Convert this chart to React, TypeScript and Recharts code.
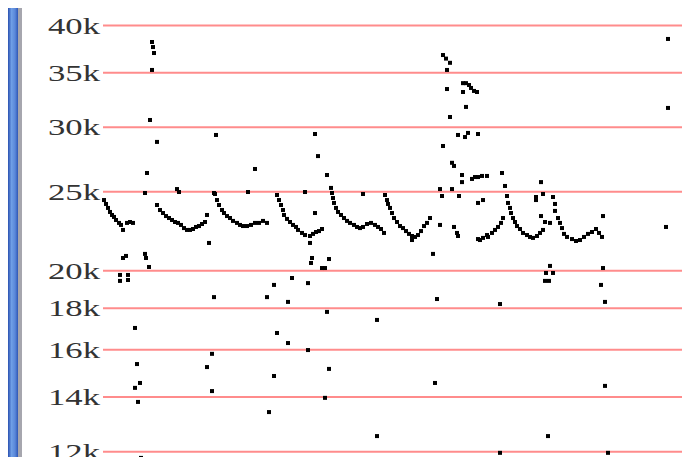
import { ScatterChart, Scatter, XAxis, YAxis, CartesianGrid } from 'recharts'

// samples as [t, value]
const wave1: [number, number][] = [
  [1, 24430], [3, 24160], [5, 23890], [7, 23620], [9, 23420], [11, 23290], [13, 23090],
  [16, 22900], [18, 22770], [20, 22450], [24, 22900], [27, 22960], [30, 22900],
]
const wave2: [number, number][] = [
  [54, 24090], [57, 23750], [60, 23550], [63, 23350], [66, 23220], [69, 23090], [72, 22960],
  [75, 22900], [78, 22770], [81, 22570], [84, 22450], [87, 22450], [90, 22510], [93, 22640],
  [96, 22700], [99, 22830], [102, 22960], [104, 23420], [74, 25200], [76, 24990], [106, 21640],
]
const wave3: [number, number][] = [
  [112, 24850], [114, 24430], [116, 24090], [119, 23750], [121, 23550], [124, 23350],
  [127, 23220], [130, 23030], [134, 22900], [137, 22770], [140, 22700], [144, 22700],
  [148, 22770], [152, 22900], [156, 22900], [160, 23030], [164, 22900], [145, 24990], [152, 26670],
]
const wave4: [number, number][] = [
  [174, 24780], [176, 24430], [178, 24090], [180, 23750], [181, 23420], [184, 23160],
  [187, 22960], [190, 22770], [193, 22640], [195, 22450], [199, 22260], [202, 22130],
  [207, 22070], [210, 22200], [213, 22320], [216, 22380], [219, 22510], [212, 23550], [202, 24990],
]
const wave5: [number, number][] = [
  [228, 25280], [229, 24920], [230, 24570], [231, 24230], [233, 23890], [235, 23620],
  [238, 23420], [241, 23220], [244, 23030], [247, 22900], [251, 22770], [254, 22640],
  [257, 22570], [260, 22640], [264, 22830], [268, 22900], [272, 22770], [275, 22640],
  [278, 22510], [281, 22260], [260, 24850],
]
const wave6: [number, number][] = [
  [282, 24780], [284, 24430], [285, 24160], [287, 23890], [289, 23550], [291, 23220],
  [294, 22960], [297, 22700], [300, 22570], [303, 22380], [306, 22200], [309, 22070],
  [309, 21820], [312, 22010], [315, 22130], [318, 22380], [321, 22700], [324, 22900],
  [327, 23220], [337, 22770], [351, 22640], [354, 22260], [355, 22070],
]
const wave7: [number, number][] = [
  [375, 21880], [380, 21950], [385, 22010], [389, 22260], [392, 22450], [395, 22640],
  [398, 22900], [400, 23220], [377, 21820], [384, 22130],
  [402, 25420], [404, 24710], [405, 24230], [407, 23890], [408, 23550], [410, 23220],
  [412, 22960], [414, 22700], [417, 22510], [420, 22260], [424, 22130], [427, 22010],
  [430, 21950], [434, 22070], [437, 22260], [440, 22450], [442, 22960], [447, 22900],
  [438, 23350], [438, 25700], [440, 24850], [433, 24640], [433, 24430],
]
const wave8: [number, number][] = [
  [450, 24640], [452, 24160], [452, 23690], [455, 23220], [457, 22900], [459, 22570],
  [461, 22200], [464, 22010], [469, 21880], [473, 21760], [477, 21820], [481, 22010],
  [485, 22200], [489, 22320], [493, 22510], [496, 22260], [499, 22010], [500, 23350],
]
const spikes: [number, number][] = [
  [49, 38180], [50, 37640], [51, 37010], [49, 35280], [47, 30630], [54, 28790], [44, 26370], [42, 24920],
  [113, 29360], [111, 24920],
  [212, 29440], [215, 27660], [224, 26220],
  [340, 36800], [343, 36430], [347, 36000], [344, 35280], [344, 33430], [347, 30890],
  [340, 28460], [349, 27140], [351, 26900], [359, 26220], [359, 25700], [337, 25200],
  [339, 24710], [349, 25200], [356, 24710], [360, 33990], [363, 33990], [366, 33810],
  [368, 33530], [371, 33250], [374, 33150], [360, 33150], [363, 31780], [355, 29360],
  [362, 29190], [365, 29530], [375, 29440], [369, 25930], [372, 26070], [375, 26070],
  [379, 26150], [384, 26150], [375, 24230], [380, 24430], [399, 26370],
  [565, 38510], [565, 31690], [563, 22640],
]
const lows: [number, number][] = [
  [20, 20740], [23, 20860], [17, 19770], [17, 19440], [25, 19770], [25, 19490],
  [42, 20980], [43, 20740], [46, 20220], [32, 17020], [34, 15370], [37, 14570],
  [32, 14370], [35, 13810], [38, 11790],
  [111, 18570], [109, 15820], [104, 15240], [109, 14240],
  [171, 19220], [164, 18570], [185, 18320], [174, 16780], [185, 16310], [171, 14860],
  [166, 13420], [166, 11660],
  [189, 19600], [205, 19320], [207, 21640], [209, 20740], [208, 20450], [226, 20680],
  [219, 20160], [222, 20160], [205, 15990], [224, 17810], [226, 15160], [222, 13970],
  [274, 17410], [274, 12540], [330, 20980], [334, 18470], [332, 14570],
  [447, 20280], [443, 19880], [450, 19880], [442, 19440], [446, 19440], [397, 18210],
  [500, 20160], [498, 19220], [502, 18320], [502, 14450], [445, 12540], [397, 11960], [505, 11960],
]

const yTicks = [12000, 14000, 16000, 18000, 20000, 25000, 30000, 35000, 40000]

const points = [...wave1, ...wave2, ...wave3, ...wave4, ...wave5, ...wave6, ...wave7, ...wave8, ...spikes, ...lows]
  .map(([t, v]) => ({ t, v }))

const Square = (props: any) => {
  const { cx, cy } = props
  if (cx == null || cy == null) return null
  return <rect x={cx - 2} y={cy - 2} width={4} height={4} fill="#000" />
}

// wide labels like the original bitmap font
const YTick = (props: any) => {
  const { x, y, payload } = props
  return (
    <text
      x={x - 3}
      y={y}
      textAnchor="end"
      dominantBaseline="central"
      fill="#333"
      fontSize={24}
      fontFamily="Liberation Serif"
      textLength={52}
      lengthAdjust="spacingAndGlyphs"
    >
      {`${payload.value / 1000}k`}
    </text>
  )
}

export default function App() {
  return (
    <div style={{ position: 'relative', width: 690, height: 465, margin: -8, background: '#fff' }}>
      <div
        style={{
          position: 'absolute', left: 8, top: 0, width: 10, height: 465,
          background: 'linear-gradient(to right, #2a50b0, #6f9fe6 35%, #5a88da 70%, #2f57b5)',
        }}
      />
      <div style={{ position: 'absolute', left: 18, top: 0, width: 4, height: 465, background: '#a6a6ae' }} />
      <ScatterChart width={690} height={465} margin={{ top: 0, right: 0, bottom: 0, left: 0 }}>
        <CartesianGrid horizontal vertical={false} stroke="#ff8c8c" strokeWidth={2} />
        <XAxis type="number" dataKey="t" domain={[0, 587]} hide />
        <YAxis
          type="number"
          dataKey="v"
          scale="log"
          domain={[11556, 42990]}
          allowDataOverflow
          ticks={yTicks}
          interval={0}
          width={103}
          axisLine={false}
          tickLine={false}
          tickSize={0}
          tickMargin={0}
          tick={<YTick />}
        />
        <Scatter data={points} shape={Square} isAnimationActive={false} />
      </ScatterChart>
    </div>
  )
}
